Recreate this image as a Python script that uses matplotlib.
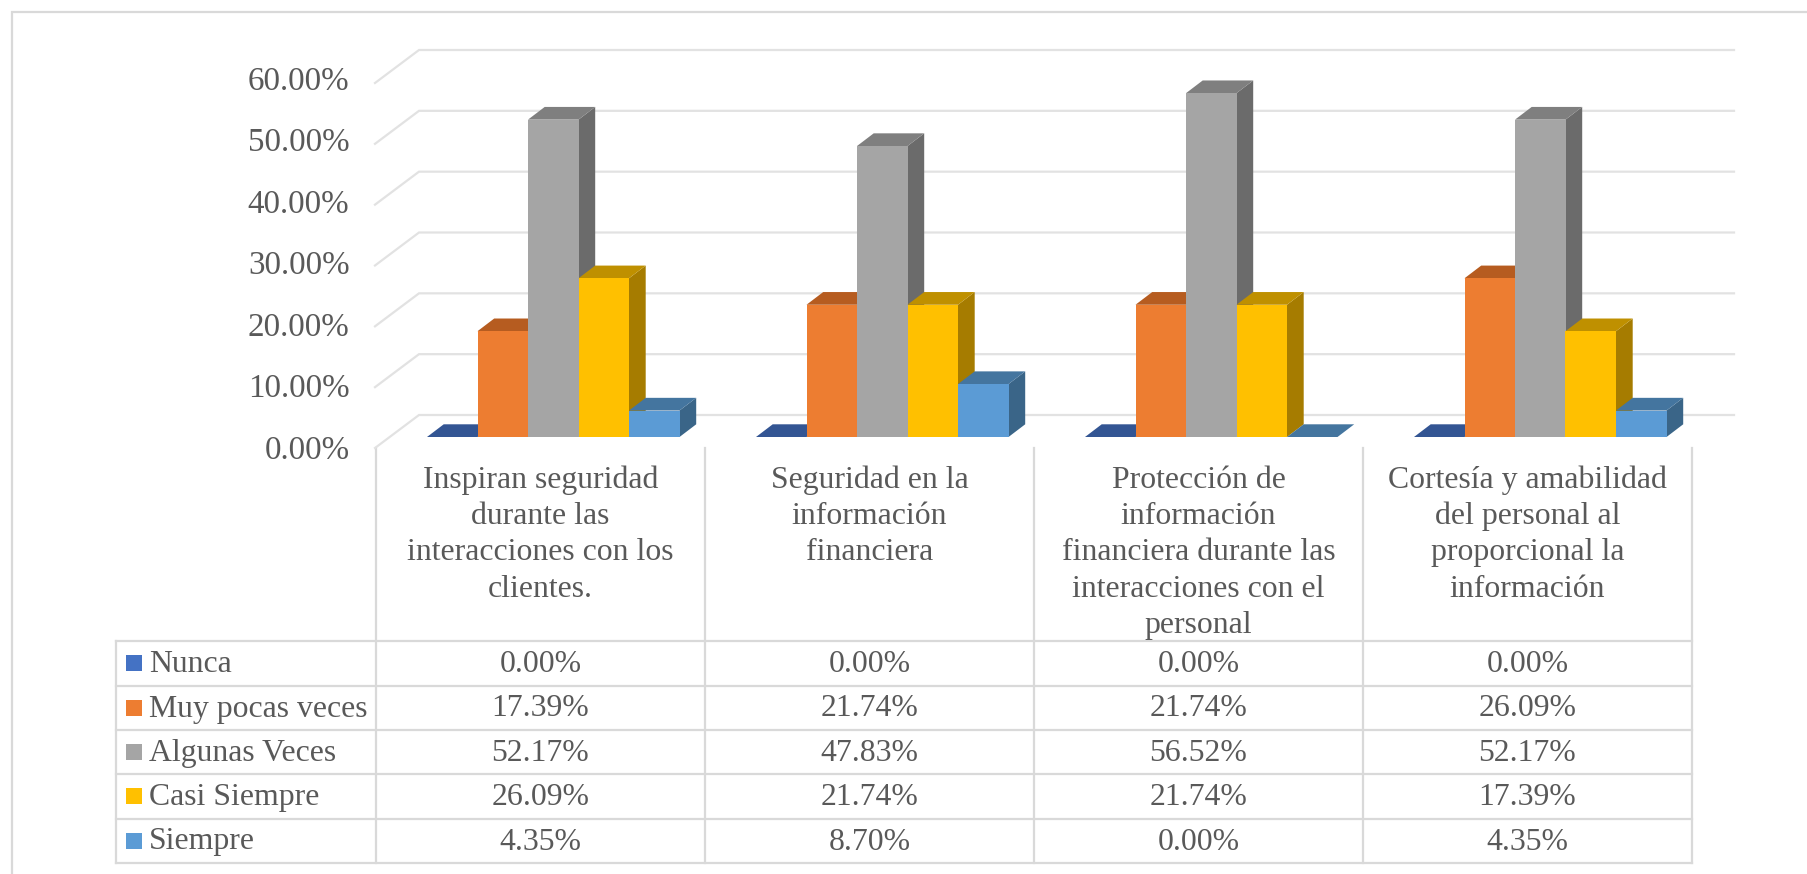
#!/usr/bin/env python3
import matplotlib
matplotlib.use("Agg")
import matplotlib.pyplot as plt

# --- data ---
categories = [
    "Inspiran seguridad\ndurante las\ninteracciones con los\nclientes.",
    "Seguridad en la\ninformación\nfinanciera",
    "Protección de\ninformación\nfinanciera durante las\ninteracciones con el\npersonal",
    "Cortesía y amabilidad\ndel personal al\nproporcional la\ninformación",
]
series_names = ["Nunca", "Muy pocas veces", "Algunas Veces", "Casi Siempre", "Siempre"]
nunca = [0.00, 0.00, 0.00, 0.00]
muy_pocas = [17.39, 21.74, 21.74, 26.09]
algunas = [52.17, 47.83, 56.52, 52.17]
casi_siempre = [26.09, 21.74, 21.74, 17.39]
siempre = [4.35, 8.70, 0.00, 4.35]
y_ticks = [0, 10, 20, 30, 40, 50, 60]

series_values = [nunca, muy_pocas, algunas, casi_siempre, siempre]
front_colors = ["#4472C4", "#ED7D31", "#A5A5A5", "#FFC000", "#5B9BD5"]
top_colors = ["#335593", "#B65C20", "#7F7F7F", "#BF9000", "#44759F"]
side_colors = ["#2D4B82", "#A0511C", "#6B6B6B", "#A67C00", "#3A6588"]

W, H = 1807, 874
GRID = "#E2E2E2"
LINE = "#D9D9D9"
TEXT = "#595959"
LW = 1.6
plt.rcParams["font.family"] = ["Liberation Serif"]

fig = plt.figure(figsize=(W / 100, H / 100), dpi=100, facecolor="white")

# overlay in pixels for the frame and the data table
tb = fig.add_axes([0, 0, 1, 1])
tb.set_xlim(0, W)
tb.set_ylim(H, 0)
tb.axis("off")

# plot area: x in category units, y in percent
COL_W = 329.0
LEFT = 376.0
FLOOR = 437.0
PX_PCT = 365.0 / 60
ax = fig.add_axes([LEFT / W, (H - FLOOR) / H, 4 * COL_W / W, 60 * PX_PCT / H])
ax.set_xlim(0, 4)
ax.set_ylim(0, 60)
ax.axis("off")
ax.patch.set_alpha(0)

# gridlines: side wall and back wall
wall_front_x = -1 / COL_W
wall_back_x = 43 / COL_W
wall_right_x = (1734 - LEFT) / COL_W
front_dy = -11 / PX_PCT
back_dy = 22 / PX_PCT
label_step = 6.15 / PX_PCT  # tick labels are spaced a bit wider than the gridlines
for t in y_ticks:
    ax.plot([wall_front_x, wall_back_x, wall_right_x],
            [t + front_dy, t + back_dy, t + back_dy],
            color=GRID, lw=LW, clip_on=False, zorder=1, solid_joinstyle="miter")
    ax.text(-26.5 / COL_W, t * label_step - 13.5 / PX_PCT, f"{t:.2f}%", ha="right", va="center",
            fontsize=23.8, color=TEXT, clip_on=False)

# bars with fake 3d depth
bar_w = 50.5 / COL_W
start = 51 / COL_W
dx = 16.7 / COL_W
dy = 12.7 / PX_PCT
z = 2
for c in range(len(categories)):
    for s, vals in enumerate(series_values):
        x0 = c + start + s * bar_w
        x1 = x0 + bar_w
        v = vals[c]
        ax.fill([x1, x1 + dx, x1 + dx, x1], [0, dy, v + dy, v], color=side_colors[s],
                lw=0, clip_on=False, zorder=z)
        ax.fill([x0, x1, x1 + dx, x0 + dx], [v, v, v + dy, v + dy], color=top_colors[s],
                lw=0, clip_on=False, zorder=z)
        ax.bar(x0, v, bar_w, align="edge", color=front_colors[s], lw=0, clip_on=False, zorder=z + 0.5)
        z += 1

# frame
tb.plot([12, 12, W], [H, 12, 12], color=LINE, lw=LW, solid_joinstyle="miter")

# table
col_x = [LEFT + i * COL_W for i in range(5)]
row_y = [641, 685.5, 729.5, 774, 818.5, 862.5]
TABLE_LEFT = 116
TOP = 448
for y in row_y:
    tb.plot([TABLE_LEFT, col_x[-1]], [y, y], color=LINE, lw=LW)
tb.plot([TABLE_LEFT, TABLE_LEFT], [row_y[0], row_y[-1]], color=LINE, lw=LW)
for x in col_x:
    tb.plot([x, x], [TOP, row_y[-1]], color=LINE, lw=LW)

FS = 22.9
LINE_H = 36.4
for c, label in enumerate(categories):
    cx = col_x[c] + COL_W / 2
    for k, part in enumerate(label.split("\n")):
        tb.text(cx, 480 + k * LINE_H, part, ha="center", va="center", fontsize=FS, color=TEXT)

for s, name in enumerate(series_names):
    cy = (row_y[s] + row_y[s + 1]) / 2
    tb.fill([126, 142, 142, 126], [cy - 8, cy - 8, cy + 8, cy + 8], color=front_colors[s], lw=0)
    tb.text(149, cy + 1.5, name, ha="left", va="center", fontsize=FS, color=TEXT)
    for c in range(len(categories)):
        tb.text(col_x[c] + COL_W / 2, cy + 1.5, f"{series_values[s][c]:.2f}%", ha="center", va="center",
                fontsize=FS, color=TEXT)

fig.savefig("out.png", dpi=100)
